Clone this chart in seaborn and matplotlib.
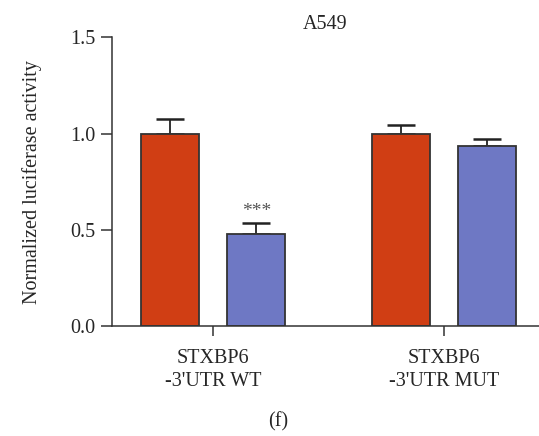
import numpy as np
import pandas as pd
import matplotlib
matplotlib.use("Agg")
import matplotlib.pyplot as plt
import seaborn as sns

groups = ["STXBP6\n-3'UTR WT", "STXBP6\n-3'UTR MUT"]
conditions = ["NC", "mimic"]
means = {"NC": [1.00, 1.00], "mimic": [0.479, 0.938]}
errs = {"NC": [0.078, 0.045], "mimic": [0.059, 0.034]}
colors = ["#D03E14", "#6E78C4"]

rows = []
for c in conditions:
    for g, m in zip(groups, means[c]):
        rows.append({"group": g, "condition": c, "value": m})
df = pd.DataFrame(rows)

sns.set_style("ticks")
plt.rcParams["font.family"] = ["Liberation Serif", "DejaVu Serif"]

fig = plt.figure(figsize=(5.39, 4.36), dpi=100)
ax = fig.add_axes([0.2078, 0.2516, 0.7922, 0.6628])

sns.barplot(
    data=df, x="group", y="value", hue="condition",
    order=groups, hue_order=conditions, palette=colors,
    width=0.75, gap=1 / 3, errorbar=None, legend=False,
    edgecolor="#333333", linewidth=1.3, saturation=1, ax=ax,
    zorder=2,
)

for cont, c in zip(ax.containers, conditions):
    xs = [b.get_x() + b.get_width() / 2 for b in cont]
    ax.errorbar(
        xs, means[c], yerr=[np.zeros(len(xs)), errs[c]],
        fmt="none", ecolor="#222222", elinewidth=1.3, capsize=10,
        capthick=1.8, zorder=1,
    )

# significance stars
wt_bar = ax.containers[1][0]
ax.text(wt_bar.get_x() + wt_bar.get_width() / 2,
        means["mimic"][0] + errs["mimic"][0] + 0.012, "***",
        ha="center", va="bottom", fontsize=14, color="#555555")

ax.set_ylim(0, 1.5)
ax.set_xlim(-0.437, 1.411)
ax.set_yticks([0, 0.5, 1.0, 1.5])
ax.set_yticklabels(["0.0", "0.5", "1.0", "1.5"])
ax.set_xlabel("")
ax.set_ylabel("Normalized luciferase activity", fontsize=14.5, labelpad=20)
ax.set_title("A549", fontsize=14.5, pad=6)

for side in ["top", "right"]:
    ax.spines[side].set_visible(False)
for side in ["left", "bottom"]:
    ax.spines[side].set_color("#333333")
    ax.spines[side].set_linewidth(1.1)
ax.tick_params(axis="y", length=8, width=1.1, color="#333333",
               labelsize=14.5, pad=4)
ax.tick_params(axis="x", length=7.5, width=1.1, color="#333333",
               labelsize=14.5, pad=9)
for lab in ax.get_xticklabels():
    lab.set_linespacing(1.3)

fig.text(0.516, 0.032, "(f)", ha="center", va="center", fontsize=14.5)

fig.savefig("out.png", dpi=100)
plt.close(fig)
